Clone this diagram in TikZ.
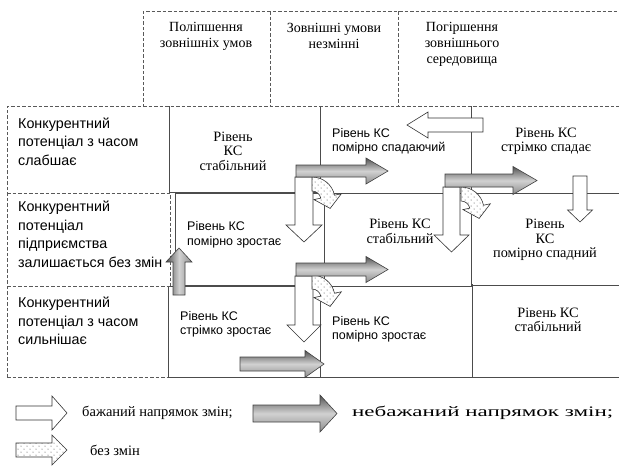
\documentclass[tikz,border=0pt]{standalone}
\usepackage{fontspec}
\usepackage{graphicx}
\setmainfont{Liberation Serif}
\setsansfont{Liberation Sans}
\usetikzlibrary{patterns,calc}
\pgfdeclarepatternformonly{sparsedots}{\pgfqpoint{-1pt}{-1pt}}{\pgfqpoint{5pt}{5pt}}{\pgfqpoint{6pt}{6pt}}{%
  \pgfpathcircle{\pgfqpoint{0pt}{0pt}}{0.5pt}%
  \pgfpathcircle{\pgfqpoint{3pt}{3pt}}{0.5pt}%
  \pgfusepath{fill}}
% style, tail x, head base x, tip x, centre y, body half height, head half height
\newcommand{\harrowshape}[7]{\path[#1] (#2,#5-#6) -- (#3,#5-#6) -- (#3,#5-#7) -- (#4,#5) -- (#3,#5+#7) -- (#3,#5+#6) -- (#2,#5+#6) -- cycle;}
% style, centre x, tail y, head base y, tip y, body half width, head half width
\newcommand{\varrowshape}[7]{\path[#1] (#2-#6,#3) -- (#2-#6,#4) -- (#2-#7,#4) -- (#2,#5) -- (#2+#7,#4) -- (#2+#6,#4) -- (#2+#6,#3) -- cycle;}
% style, centre x, centre y
\newcommand{\curvedarrowshape}[3]{\path[#1] ($(#2,#3)+(-90:23)$) arc[start angle=-90,end angle=-12,radius=23] -- ($(#2,#3)+(-12:30)$) -- ($(#2,#3)+(-12:16)+(78:12)$) -- ($(#2,#3)+(-12:2)$) -- ($(#2,#3)+(-12:9)$) arc[start angle=-12,end angle=-90,radius=9] -- cycle;}
\begin{document}
\begin{tikzpicture}[x=1pt,y=-1pt,
  dsh/.style={draw=black!65, dash pattern=on 3.5pt off 2pt, line width=0.6pt},
  cell/.style={draw=black!70, line width=0.7pt},
  wht/.style={draw=black!80, fill=white, line width=0.6pt},
  drk/.style={draw=black!75, line width=0.6pt, top color=black!68, bottom color=black!45, middle color=black!18},
  drkv/.style={draw=black!75, line width=0.6pt, left color=black!68, right color=black!45, middle color=black!18},
  dotf/.style={draw=black!80, line width=0.6pt, preaction={fill=white}, pattern=sparsedots, pattern color=black!75},
  hdr/.style={font=\fontsize{14}{16}\selectfont, align=center, inner sep=0pt},
  rowlab/.style={font=\sffamily\fontsize{14.3}{18.5}\selectfont, align=left, anchor=west, inner sep=0pt},
  cser/.style={font=\fontsize{14.3}{14.5}\selectfont, align=center, inner sep=0pt},
  csan/.style={font=\sffamily\fontsize{12.5}{14.5}\selectfont, align=left, anchor=west, inner sep=0pt},
  leg/.style={font=\fontsize{14.5}{16}\selectfont, anchor=west, inner sep=0pt}]
\useasboundingbox (0,0) rectangle (619,467);
% solid cells
\draw[cell] (169,106) -- (169,192) -- (320,192);
\draw[cell] (320,106) -- (320,193) -- (471,193) -- (471,106);
\draw[cell] (471,193) -- (621,193);
\draw[cell] (175,193) rectangle (324,285);
\draw[cell] (324,194) -- (324,286) -- (471,286) -- (471,194);
\draw[cell] (471,285) -- (621,285);
\draw[cell] (168,286) rectangle (320,377);
\draw[cell] (320,286) rectangle (472,377);
\draw[cell] (472,284) -- (472,377) -- (621,377);
% dashed frame
\draw[dsh] (143,107) -- (143,11) -- (621,11);
\draw[dsh] (270,11) -- (270,106);
\draw[dsh] (398,11) -- (398,106);
\draw[dsh] (7,377) -- (7,106) -- (621,106);
\draw[dsh] (7,193) -- (170,193) -- (170,286);
\draw[dsh] (7,286) -- (170,286);
\draw[dsh] (7,377) -- (168,377);
% header
\node[hdr] (h1) at (206,36) {Поліпшення\\зовнішніх умов};
\node[hdr] (h2) at (334,36) {Зовнішні умови\\незмінні};
\node[hdr] (h3) at (462,44) {Погіршення\\зовнішнього\\середовища};
% row labels
\node[rowlab] (r1) at (18,141.5) {Конкурентний\\потенціал з часом\\слабшає};
\node[rowlab] (r2) at (18,234.5) {Конкурентний\\потенціал\\підприємства\\залишається без змін};
\node[rowlab] (r3) at (18,321) {Конкурентний\\потенціал з часом\\сильнішає};
% cells
\node[cser] (c11) at (233,151) {Рівень\\КС\\стабільний};
\node[csan] (c12) at (332,141.5) {Рівень КС\\помірно спадаючий};
\node[cser] (c13) at (546,141.5) {Рівень КС\\стрімко спадає};
\node[csan] (c21) at (187,235) {Рівень КС\\помірно зростає};
\node[cser] (c22) at (400,231.5) {Рівень КС\\стабільний};
\node[cser] (c23) at (545,240) {Рівень\\КС\\помірно спадний};
\node[csan] (c31) at (180,324.5) {Рівень КС\\стрімко зростає};
\node[csan] (c32) at (332,329.5) {Рівень КС\\помірно зростає};
\node[cser] (c33) at (548,320) {Рівень КС\\стабільний};
% arrows
\harrowshape{wht}{483}{428}{407}{125}{7}{13}
\varrowshape{wht}{304}{177}{225}{242}{9}{18}
\varrowshape{wht}{304}{276}{325}{342}{9}{17}
\varrowshape{wht}{451.5}{187}{235}{252}{8.5}{17.5}
\varrowshape{wht}{580}{176}{210}{222}{7}{12.5}
\curvedarrowshape{dotf}{312}{200}
\curvedarrowshape{dotf}{312}{298}
\curvedarrowshape{dotf}{461}{210}
\harrowshape{drk}{296}{366}{388}{171}{6}{13}
\harrowshape{drk}{296}{366}{388}{269.5}{6.5}{13}
\harrowshape{drk}{240}{305}{324}{364}{7}{13.5}
\harrowshape{drk}{445}{513}{537}{180.5}{6.5}{14}
\varrowshape{drkv}{179}{295}{262}{248}{6}{13}
% legend
\harrowshape{wht}{16}{52}{67}{413}{7}{17}
\node[leg] (l1) at (82,413) {бажаний напрямок змін;};
\harrowshape{drk}{253}{320}{337}{413.5}{8.5}{18.5}
\node[leg] (l2) at (352,413) {\resizebox{261pt}{\height}{небажаний напрямок змін;}};
\harrowshape{dotf}{16}{52}{67}{450}{7}{15}
\node[leg] (l3) at (90,450) {без змін};
\end{tikzpicture}
\end{document}
